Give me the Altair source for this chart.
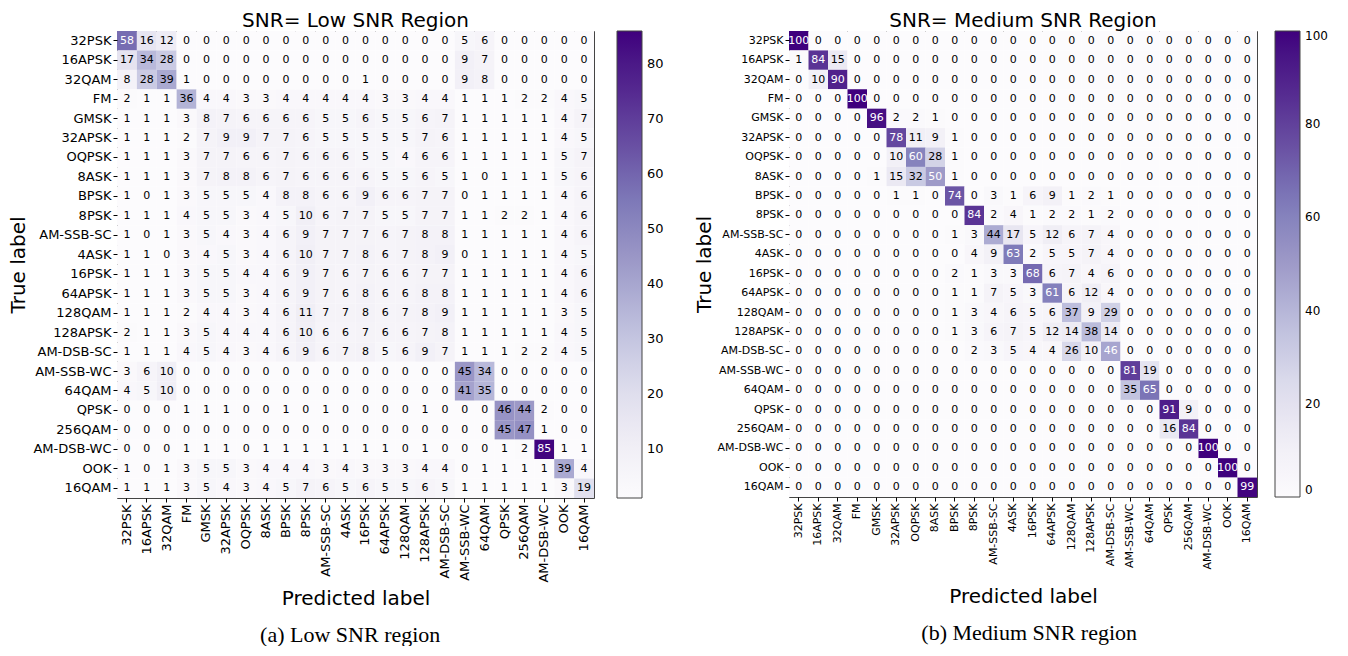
import altair as alt
import pandas as pd

labels = ["32PSK", "16APSK", "32QAM", "FM", "GMSK", "32APSK", "OQPSK", "8ASK",
          "BPSK", "8PSK", "AM-SSB-SC", "4ASK", "16PSK", "64APSK", "128QAM",
          "128APSK", "AM-DSB-SC", "AM-SSB-WC", "64QAM", "QPSK", "256QAM",
          "AM-DSB-WC", "OOK", "16QAM"]

low_snr = [
    [58, 16, 12, 0, 0, 0, 0, 0, 0, 0, 0, 0, 0, 0, 0, 0, 0, 5, 6, 0, 0, 0, 0, 0],
    [17, 34, 28, 0, 0, 0, 0, 0, 0, 0, 0, 0, 0, 0, 0, 0, 0, 9, 7, 0, 0, 0, 0, 0],
    [8, 28, 39, 1, 0, 0, 0, 0, 0, 0, 0, 0, 1, 0, 0, 0, 0, 9, 8, 0, 0, 0, 0, 0],
    [2, 1, 1, 36, 4, 4, 3, 3, 4, 4, 4, 4, 4, 3, 3, 4, 4, 1, 1, 1, 2, 2, 4, 5],
    [1, 1, 1, 3, 8, 7, 6, 6, 6, 6, 5, 5, 6, 5, 5, 6, 7, 1, 1, 1, 1, 1, 4, 7],
    [1, 1, 1, 2, 7, 9, 9, 7, 7, 6, 5, 5, 5, 5, 5, 7, 6, 1, 1, 1, 1, 1, 4, 5],
    [1, 1, 1, 3, 7, 7, 6, 6, 7, 6, 6, 6, 5, 5, 4, 6, 6, 1, 1, 1, 1, 1, 5, 7],
    [1, 1, 1, 3, 7, 8, 8, 6, 7, 6, 6, 6, 6, 5, 5, 6, 5, 1, 0, 1, 1, 1, 5, 6],
    [1, 0, 1, 3, 5, 5, 5, 4, 8, 8, 6, 6, 9, 6, 6, 7, 7, 0, 1, 1, 1, 1, 4, 6],
    [1, 1, 1, 4, 5, 5, 3, 4, 5, 10, 6, 7, 7, 5, 5, 7, 7, 1, 1, 2, 2, 1, 4, 6],
    [1, 0, 1, 3, 5, 4, 3, 4, 6, 9, 7, 7, 7, 6, 7, 8, 8, 1, 1, 1, 1, 1, 4, 6],
    [1, 1, 0, 3, 4, 5, 3, 4, 6, 10, 7, 7, 8, 6, 7, 8, 9, 0, 1, 1, 1, 1, 4, 5],
    [1, 1, 1, 3, 5, 5, 4, 4, 6, 9, 7, 6, 7, 6, 6, 7, 7, 1, 1, 1, 1, 1, 4, 6],
    [1, 1, 1, 3, 5, 5, 3, 4, 6, 9, 7, 6, 8, 6, 6, 8, 8, 1, 1, 1, 1, 1, 4, 6],
    [1, 1, 1, 2, 4, 4, 3, 4, 6, 11, 7, 7, 8, 6, 7, 8, 9, 1, 1, 1, 1, 1, 3, 5],
    [2, 1, 1, 3, 5, 4, 4, 4, 6, 10, 6, 6, 7, 6, 6, 7, 8, 1, 1, 1, 1, 1, 4, 5],
    [1, 1, 1, 4, 5, 4, 3, 4, 6, 9, 6, 7, 8, 5, 6, 9, 7, 1, 1, 1, 2, 2, 4, 5],
    [3, 6, 10, 0, 0, 0, 0, 0, 0, 0, 0, 0, 0, 0, 0, 0, 0, 45, 34, 0, 0, 0, 0, 0],
    [4, 5, 10, 0, 0, 0, 0, 0, 0, 0, 0, 0, 0, 0, 0, 0, 0, 41, 35, 0, 0, 0, 0, 0],
    [0, 0, 0, 1, 1, 1, 0, 0, 1, 0, 1, 0, 0, 0, 0, 1, 0, 0, 0, 46, 44, 2, 0, 0],
    [0, 0, 0, 0, 0, 0, 0, 0, 0, 0, 0, 0, 0, 0, 0, 0, 0, 0, 0, 45, 47, 1, 0, 0],
    [0, 0, 0, 1, 1, 1, 0, 1, 1, 1, 1, 1, 1, 1, 0, 1, 0, 0, 0, 1, 2, 85, 1, 1],
    [1, 0, 1, 3, 5, 5, 3, 4, 4, 4, 3, 4, 3, 3, 3, 4, 4, 0, 1, 1, 1, 1, 39, 4],
    [1, 1, 1, 3, 5, 4, 3, 4, 5, 7, 6, 5, 6, 5, 5, 6, 5, 1, 1, 1, 1, 1, 3, 19],
]

medium_snr = [
    [100, 0, 0, 0, 0, 0, 0, 0, 0, 0, 0, 0, 0, 0, 0, 0, 0, 0, 0, 0, 0, 0, 0, 0],
    [1, 84, 15, 0, 0, 0, 0, 0, 0, 0, 0, 0, 0, 0, 0, 0, 0, 0, 0, 0, 0, 0, 0, 0],
    [0, 10, 90, 0, 0, 0, 0, 0, 0, 0, 0, 0, 0, 0, 0, 0, 0, 0, 0, 0, 0, 0, 0, 0],
    [0, 0, 0, 100, 0, 0, 0, 0, 0, 0, 0, 0, 0, 0, 0, 0, 0, 0, 0, 0, 0, 0, 0, 0],
    [0, 0, 0, 0, 96, 2, 2, 1, 0, 0, 0, 0, 0, 0, 0, 0, 0, 0, 0, 0, 0, 0, 0, 0],
    [0, 0, 0, 0, 0, 78, 11, 9, 1, 0, 0, 0, 0, 0, 0, 0, 0, 0, 0, 0, 0, 0, 0, 0],
    [0, 0, 0, 0, 0, 10, 60, 28, 1, 0, 0, 0, 0, 0, 0, 0, 0, 0, 0, 0, 0, 0, 0, 0],
    [0, 0, 0, 0, 1, 15, 32, 50, 1, 0, 0, 0, 0, 0, 0, 0, 0, 0, 0, 0, 0, 0, 0, 0],
    [0, 0, 0, 0, 0, 1, 1, 0, 74, 0, 3, 1, 6, 9, 1, 2, 1, 0, 0, 0, 0, 0, 0, 0],
    [0, 0, 0, 0, 0, 0, 0, 0, 0, 84, 2, 4, 1, 2, 2, 1, 2, 0, 0, 0, 0, 0, 0, 0],
    [0, 0, 0, 0, 0, 0, 0, 0, 1, 3, 44, 17, 5, 12, 6, 7, 4, 0, 0, 0, 0, 0, 0, 0],
    [0, 0, 0, 0, 0, 0, 0, 0, 0, 4, 9, 63, 2, 5, 5, 7, 4, 0, 0, 0, 0, 0, 0, 0],
    [0, 0, 0, 0, 0, 0, 0, 0, 2, 1, 3, 3, 68, 6, 7, 4, 6, 0, 0, 0, 0, 0, 0, 0],
    [0, 0, 0, 0, 0, 0, 0, 0, 1, 1, 7, 5, 3, 61, 6, 12, 4, 0, 0, 0, 0, 0, 0, 0],
    [0, 0, 0, 0, 0, 0, 0, 0, 1, 3, 4, 6, 5, 6, 37, 9, 29, 0, 0, 0, 0, 0, 0, 0],
    [0, 0, 0, 0, 0, 0, 0, 0, 1, 3, 6, 7, 5, 12, 14, 38, 14, 0, 0, 0, 0, 0, 0, 0],
    [0, 0, 0, 0, 0, 0, 0, 0, 0, 2, 3, 5, 4, 4, 26, 10, 46, 0, 0, 0, 0, 0, 0, 0],
    [0, 0, 0, 0, 0, 0, 0, 0, 0, 0, 0, 0, 0, 0, 0, 0, 0, 81, 19, 0, 0, 0, 0, 0],
    [0, 0, 0, 0, 0, 0, 0, 0, 0, 0, 0, 0, 0, 0, 0, 0, 0, 35, 65, 0, 0, 0, 0, 0],
    [0, 0, 0, 0, 0, 0, 0, 0, 0, 0, 0, 0, 0, 0, 0, 0, 0, 0, 0, 91, 9, 0, 0, 0],
    [0, 0, 0, 0, 0, 0, 0, 0, 0, 0, 0, 0, 0, 0, 0, 0, 0, 0, 0, 16, 84, 0, 0, 0],
    [0, 0, 0, 0, 0, 0, 0, 0, 0, 0, 0, 0, 0, 0, 0, 0, 0, 0, 0, 0, 0, 100, 0, 0],
    [0, 0, 0, 0, 0, 0, 0, 0, 0, 0, 0, 0, 0, 0, 0, 0, 0, 0, 0, 0, 0, 0, 100, 0],
    [0, 0, 0, 0, 0, 0, 0, 0, 0, 0, 0, 0, 0, 0, 0, 0, 0, 0, 0, 0, 0, 0, 0, 99],
]

low_ticks = [10, 20, 30, 40, 50, 60, 70, 80]
medium_ticks = [0, 20, 40, 60, 80, 100]

# ColorBrewer "Purples" (same as matplotlib's Purples colormap)
purples = ["#fcfbfd", "#efedf5", "#dadaeb", "#bcbddc", "#9e9ac8",
           "#807dba", "#6a51a3", "#54278f", "#3f007d"]


def to_long(mat):
    rows = []
    for i, t in enumerate(labels):
        for j, p in enumerate(labels):
            rows.append({"true": t, "pred": p, "value": mat[i][j]})
    return pd.DataFrame(rows)


def piecewise(lo, hi):
    n = len(purples) - 1
    return [lo + (hi - lo) * k / n for k in range(n + 1)]


def panel(mat, title, caption, w, h, domain, ticks, thresh, leg_offset,
          tick_fs, y_title_pad, x_title_pad, leg_fs, cap_dx):
    df = to_long(mat)
    base = alt.Chart(df).encode(
        x=alt.X("pred:N", sort=labels, title="Predicted label",
                axis=alt.Axis(labelAngle=-90, labelFontSize=tick_fs, titleFontSize=20,
                              titleFontWeight="normal", tickSize=4, labelPadding=2,
                              titlePadding=x_title_pad, domain=False, grid=False,
                              labelColor="black", tickColor="black",
                              titleColor="black")),
        y=alt.Y("true:N", sort=labels, title="True label",
                axis=alt.Axis(labelFontSize=tick_fs, titleFontSize=20,
                              titleFontWeight="normal", tickSize=4, labelPadding=2,
                              titlePadding=y_title_pad, domain=False, grid=False,
                              labelColor="black", tickColor="black",
                              titleColor="black")),
    )
    rect = base.mark_rect().encode(
        color=alt.Color("value:Q",
                        scale=alt.Scale(domain=piecewise(*domain), range=purples,
                                        clamp=True),
                        legend=alt.Legend(title=None, values=ticks, orient="right",
                                          direction="vertical", gradientLength=h,
                                          gradientThickness=25, offset=leg_offset,
                                          labelFontSize=leg_fs, labelColor="black",
                                          labelOffset=5,
                                          gradientStrokeColor="#444",
                                          gradientStrokeWidth=1, padding=0))
    )
    text = base.mark_text(fontSize=11, font="DejaVu Sans").encode(
        text="value:Q",
        color=alt.condition(alt.datum.value > thresh, alt.value("white"),
                            alt.value("black")),
    )
    layer = alt.layer(rect, text).properties(
        width=w, height=h,
        title=alt.TitleParams(title, fontSize=20, fontWeight="normal",
                              color="black", offset=0),
    )
    return alt.vconcat(layer, title=alt.TitleParams(
        caption, orient="bottom", anchor="middle", frame="bounds", dx=cap_dx,
        font="Liberation Serif", fontSize=22, fontWeight="normal", color="black",
        offset=16))


left = panel(low_snr, "SNR= Low SNR Region", "(a) Low SNR region",
             477, 467, [1, 86], low_ticks, 50, 22, 13, 4, 6, 13, 14)
right = panel(medium_snr, "SNR= Medium SNR Region", "(b) Medium SNR region",
              468, 466, [0, 100], medium_ticks, 45, 17, 11, 2, 17, 12, 18)

chart = alt.hconcat(left, right, spacing=30).resolve_scale(
    color="independent").properties(
    padding={"left": 0, "top": 2, "right": 0, "bottom": 0}).configure(
    font="DejaVu Sans").configure_view(stroke="#444", strokeWidth=1)

chart.save("out.html", embed_options={"renderer": "svg", "actions": False})
